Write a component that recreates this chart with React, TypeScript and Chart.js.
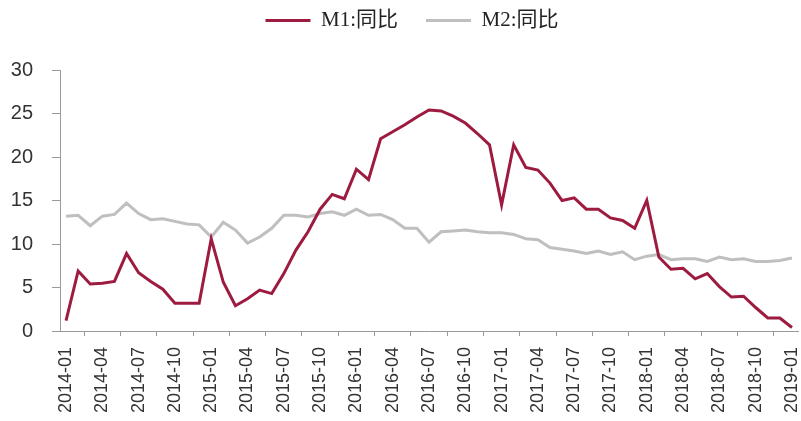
import { useEffect, useRef } from 'react';
import { Chart, registerables } from 'chart.js';

Chart.register(...registerables);

// Monthly categories, 2014-01 .. 2019-01
const months: string[] = [
  '2014-01', '2014-02', '2014-03', '2014-04', '2014-05', '2014-06',
  '2014-07', '2014-08', '2014-09', '2014-10', '2014-11', '2014-12',
  '2015-01', '2015-02', '2015-03', '2015-04', '2015-05', '2015-06',
  '2015-07', '2015-08', '2015-09', '2015-10', '2015-11', '2015-12',
  '2016-01', '2016-02', '2016-03', '2016-04', '2016-05', '2016-06',
  '2016-07', '2016-08', '2016-09', '2016-10', '2016-11', '2016-12',
  '2017-01', '2017-02', '2017-03', '2017-04', '2017-05', '2017-06',
  '2017-07', '2017-08', '2017-09', '2017-10', '2017-11', '2017-12',
  '2018-01', '2018-02', '2018-03', '2018-04', '2018-05', '2018-06',
  '2018-07', '2018-08', '2018-09', '2018-10', '2018-11', '2018-12',
  '2019-01',
];

// M1 year-on-year growth (%)
const m1Yoy: number[] = [
  1.2, 6.9, 5.4, 5.5, 5.7, 8.9, 6.7, 5.7, 4.8, 3.2, 3.2, 3.2,
  10.6, 5.6, 2.9, 3.7, 4.7, 4.3, 6.6, 9.3, 11.4, 14.0, 15.7, 15.2,
  18.6, 17.4, 22.1, 22.9, 23.7, 24.6, 25.4, 25.3, 24.7, 23.9, 22.7, 21.4,
  14.5, 21.4, 18.8, 18.5, 17.0, 15.0, 15.3, 14.0, 14.0, 13.0, 12.7, 11.8,
  15.0, 8.5, 7.1, 7.2, 6.0, 6.6, 5.1, 3.9, 4.0, 2.7, 1.5, 1.5,
  0.4,
];

// M2 year-on-year growth (%)
const m2Yoy: number[] = [
  13.2, 13.3, 12.1, 13.2, 13.4, 14.7, 13.5, 12.8, 12.9, 12.6, 12.3, 12.2,
  10.8, 12.5, 11.6, 10.1, 10.8, 11.8, 13.3, 13.3, 13.1, 13.5, 13.7, 13.3,
  14.0, 13.3, 13.4, 12.8, 11.8, 11.8, 10.2, 11.4, 11.5, 11.6, 11.4, 11.3,
  11.3, 11.1, 10.6, 10.5, 9.6, 9.4, 9.2, 8.9, 9.2, 8.8, 9.1, 8.2,
  8.6, 8.8, 8.2, 8.3, 8.3, 8.0, 8.5, 8.2, 8.3, 8.0, 8.0, 8.1,
  8.4,
];

const seriesNames: string[] = ['M1:同比', 'M2:同比'];

// y-axis range and step
const yMin = 0;
const yMax = 30;
const yStep = 5;

// every third month carries a label
const labelEvery = 3;

const RED = '#9e1b40';
const GREY = '#bfbfbf';
const AXIS = '#9a9a9a';
const TEXT = '#333333';
const SANS = '"Liberation Sans", Arial, sans-serif';
const SERIF = '"Liberation Serif", "Noto Sans CJK SC", serif';

export default function App() {
  const canvasRef = useRef<HTMLCanvasElement | null>(null);

  useEffect(() => {
    const canvas = canvasRef.current;
    if (!canvas) return;

    const chart = new Chart(canvas, {
      type: 'line',
      data: {
        labels: months,
        datasets: [
          {
            label: seriesNames[0],
            data: m1Yoy,
            borderColor: RED,
            backgroundColor: RED,
            borderWidth: 3,
            pointRadius: 0,
            tension: 0,
          },
          {
            label: seriesNames[1],
            data: m2Yoy,
            borderColor: GREY,
            backgroundColor: GREY,
            borderWidth: 3,
            pointRadius: 0,
            tension: 0,
          },
        ],
      },
      options: {
        animation: false,
        responsive: true,
        maintainAspectRatio: false,
        // the legend spans a slightly wider band than the plot, so it sits
        // a little right of the canvas centre
        layout: { padding: { left: 6, right: -17, top: -18, bottom: 0 } },
        plugins: {
          tooltip: { enabled: false },
          legend: {
            position: 'top',
            align: 'center',
            labels: {
              boxWidth: 45,
              boxHeight: 0,
              padding: 28,
              color: '#222',
              font: { family: SERIF, size: 21 },
            },
          },
          // empty spacer between the legend and the plot area
          title: {
            display: true,
            text: '',
            weight: 500,
            padding: 0,
            font: { size: 29, lineHeight: 1 },
          },
        },
        scales: {
          x: {
            type: 'category',
            offset: true,
            afterFit: (s: any) => {
              s.height = 90;
              s.paddingLeft = 0;
              s.paddingRight = 3;
            },
            grid: {
              offset: true,
              drawOnChartArea: false,
              drawTicks: true,
              tickLength: 5,
              color: AXIS,
            },
            border: { display: true, color: AXIS, width: 1 },
            ticks: {
              autoSkip: false,
              maxRotation: 90,
              minRotation: 90,
              padding: 11,
              color: TEXT,
              font: { family: SANS, size: 18 },
              callback: (_v: any, i: number) =>
                i % labelEvery === 0 ? months[i] : null,
            },
          },
          y: {
            min: yMin,
            max: yMax,
            afterFit: (s: any) => {
              s.width = 54;
            },
            grid: {
              drawOnChartArea: false,
              drawTicks: true,
              tickLength: 8,
              color: AXIS,
            },
            border: { display: true, color: AXIS, width: 1 },
            ticks: {
              stepSize: yStep,
              padding: 19,
              color: TEXT,
              font: { family: SANS, size: 20 },
            },
          },
        },
      },
    });

    return () => chart.destroy();
  }, []);

  return (
    <div
      style={{
        position: 'absolute',
        left: 0,
        top: 0,
        width: 801,
        height: 421,
        background: '#fff',
      }}
    >
      <canvas ref={canvasRef} />
    </div>
  );
}
